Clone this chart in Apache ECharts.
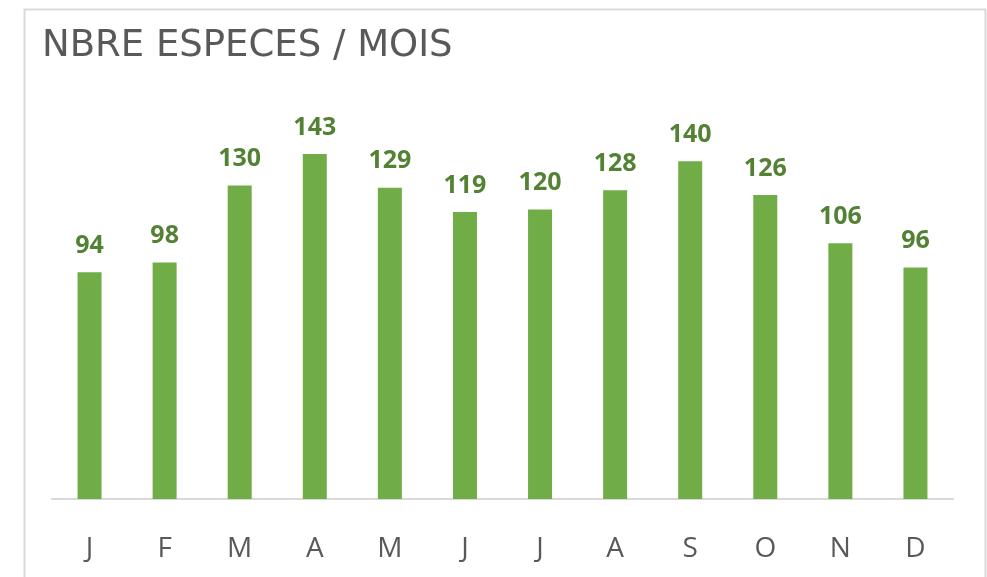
<!DOCTYPE html>
<html>
<head>
<meta charset="utf-8">
<script src="https://cdn.jsdelivr.net/npm/echarts@6/dist/echarts.min.js"></script>
<style>
html,body{margin:0;padding:0;background:#fff;}
#c{width:987px;height:577px;}
</style>
</head>
<body>
<div id="c"></div>
<script>
const titleText = "NBRE ESPECES / MOIS";
const months = ["J","F","M","A","M","J","J","A","S","O","N","D"];
const species = [94, 98, 130, 143, 129, 119, 120, 128, 140, 126, 106, 96];

const FONT = "'Comic Sans MS', 'Open Sans', sans-serif";
const TFONT = "'Comic Sans MS', 'DejaVu Sans', sans-serif";
const chart = echarts.init(document.getElementById('c'), null, {renderer: 'canvas'});
chart.setOption({
  backgroundColor: '#ffffff',
  animation: false,
  title: {
    text: titleText,
    left: 37,
    top: 23,
    textStyle: {fontFamily: TFONT, fontSize: 37, fontWeight: 'normal', color: '#595959'}
  },
  graphic: [{
    type: 'rect',
    left: 22, top: 7,
    shape: {width: 961, height: 620},
    style: {fill: 'none', stroke: '#d9d9d9', lineWidth: 2},
    silent: true, z: -1
  }],
  grid: {left: 52, width: 901, top: 113, bottom: 78},
  xAxis: {
    type: 'category',
    data: months,
    axisLine: {lineStyle: {color: '#d9d9d9', width: 2}},
    axisTick: {show: false},
    axisLabel: {fontFamily: FONT, fontSize: 28, color: '#595959', margin: 36}
  },
  yAxis: {
    type: 'value', min: 0, max: 160, interval: 20,
    show: false, splitLine: {show: false}
  },
  series: [{
    type: 'bar',
    data: species,
    barWidth: 24,
    itemStyle: {color: '#70ad47'},
    label: {
      show: true, position: 'top', distance: 14,
      fontFamily: FONT, fontSize: 25, fontWeight: 'bold', color: '#548235'
    }
  }]
});
</script>
</body>
</html>
